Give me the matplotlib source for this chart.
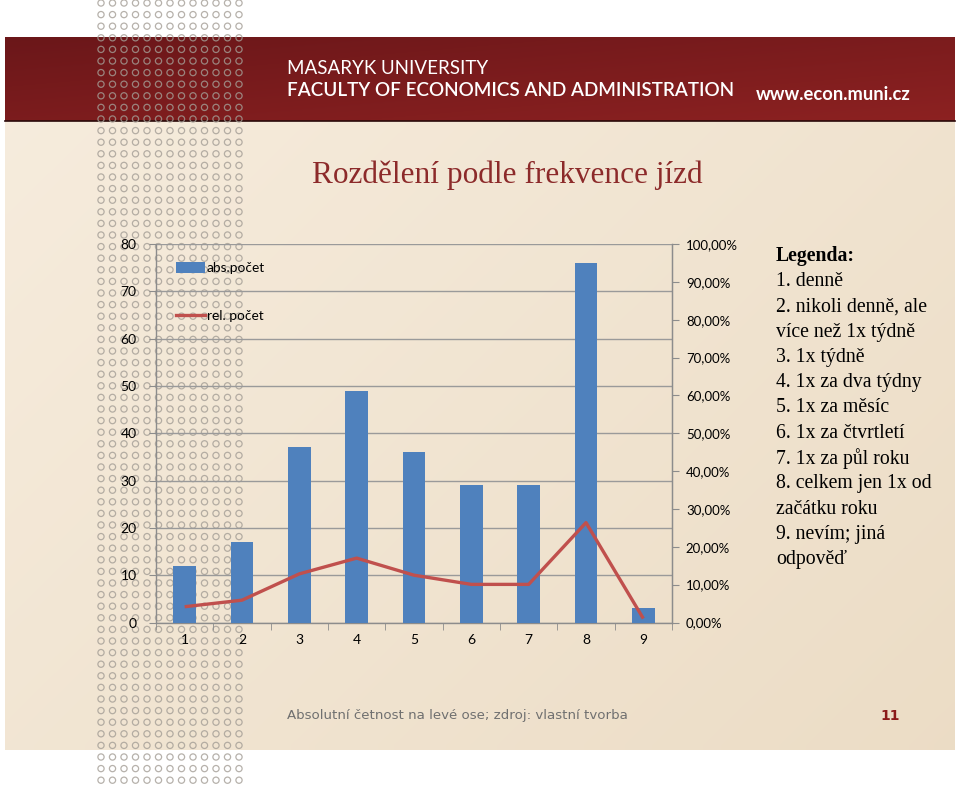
import matplotlib
matplotlib.use("Agg")
import matplotlib.pyplot as plt
import numpy as np
from matplotlib.lines import Line2D
from matplotlib.patches import Patch
from matplotlib.ticker import FuncFormatter, MultipleLocator

# ---------------- data ----------------
categories = ["1", "2", "3", "4", "5", "6", "7", "8", "9"]
abs_counts = [12, 17, 37, 49, 36, 29, 29, 76, 3]
rel_percent = [4.17, 5.90, 12.85, 17.01, 12.50, 10.07, 10.07, 26.39, 1.04]
title = "Rozdělení podle frekvence jízd"
legend_lines = [
    "1. denně",
    "2. nikoli denně, ale",
    "více než 1x týdně",
    "3. 1x týdně",
    "4. 1x za dva týdny",
    "5. 1x za měsíc",
    "6. 1x za čtvrtletí",
    "7. 1x za půl roku",
    "8. celkem jen 1x od",
    "začátku roku",
    "9. nevím; jiná",
    "odpověď",
]
footer = "Absolutní četnost na levé ose; zdroj: vlastní tvorba"
page_no = "11"

W, H = 960, 787
fig = plt.figure(figsize=(W / 100, H / 100), dpi=100)
fig.patch.set_facecolor("white")

# ---------------- background (pixel coordinates) ----------------
bg = fig.add_axes([0, 0, 1, 1], zorder=-10)
bg.set_xlim(0, W)
bg.set_ylim(H, 0)
bg.axis("off")

# beige gradient panel
grad = np.linspace(0, 1, 256)
gx, gy = np.meshgrid(grad, np.linspace(0, 1, 64))
t = 0.6 * gx + 0.4 * gy
c0 = np.array([0.965, 0.925, 0.865])
c1 = np.array([0.925, 0.865, 0.775])
img = c0[None, None, :] * (1 - t[..., None]) + c1[None, None, :] * t[..., None]
bg.imshow(img, extent=[5, 955, 750, 121], aspect="auto", zorder=0, interpolation="bilinear")

# red header gradient
rx, ry = np.meshgrid(np.linspace(0, 1, 256), np.linspace(0, 1, 32))
tr = 0.5 * rx + 0.5 * ry
r0 = np.array([0.42, 0.09, 0.10])
r1 = np.array([0.55, 0.13, 0.13])
rimg = r0[None, None, :] * (1 - tr[..., None]) + r1[None, None, :] * tr[..., None]
bg.imshow(rimg, extent=[5, 955, 121, 37], aspect="auto", zorder=1, interpolation="bilinear")
bg.plot([5, 955], [121, 121], color="#2a0a0a", lw=1.2, zorder=2)

# dotted decoration
xs = 101 + 11.5 * np.arange(13)
ys = 3 + 11.6 * np.arange(68)
DX, DY = np.meshgrid(xs, ys)
bg.scatter(DX.ravel(), DY.ravel(), s=20, facecolors="none",
           edgecolors="#a49e96", linewidths=0.9, alpha=0.8, zorder=3)

bg.set_xlim(0, W)
bg.set_ylim(H, 0)

# header texts
bg.text(287, 68, "MASARYK UNIVERSITY", color="white", fontsize=13.5,
        family="Lato", va="center", ha="left", zorder=5)
bg.text(287, 91, "FACULTY OF ECONOMICS AND ADMINISTRATION", color="white",
        fontsize=13.6, family="Lato", fontweight="semibold", va="center", ha="left", zorder=5)
bg.text(756, 95, "www.econ.muni.cz", color="white", fontsize=13.2,
        family="Lato", fontweight="bold", va="center", ha="left", zorder=5)

# title
bg.text(507, 175, title, color="#8c2a2a", fontsize=22.5, family="Liberation Serif",
        ha="center", va="center", zorder=5)

# right-hand legend text
bg.text(776, 256, "Legenda:", fontsize=14.2, family="Liberation Serif",
        fontweight="bold", va="center", ha="left", color="black", zorder=5)
for i, line in enumerate(legend_lines):
    bg.text(776, 281.5 + 25.3 * i, line, fontsize=14.2, family="Liberation Serif",
            va="center", ha="left", color="black", zorder=5)

# footer
bg.text(287, 716, footer, fontsize=9.6, family="DejaVu Sans", color="#707070",
        va="center", ha="left", zorder=5)
bg.text(890, 716, page_no, fontsize=10, family="DejaVu Sans", fontweight="bold",
        color="#8b1a1a", va="center", ha="center", zorder=5)

# ---------------- chart ----------------
left, right = 156 / W, 672 / W
bottom, top = 1 - 622.5 / H, 1 - 244 / H
ax = fig.add_axes([left, bottom, right - left, top - bottom], zorder=2)
ax.patch.set_alpha(0)

x = np.arange(1, len(categories) + 1)
bar_color = "#4f81bd"
line_color = "#c0504d"
ax.bar(x, abs_counts, width=0.4, color=bar_color, zorder=3)
ax.set_xlim(0.5, len(categories) + 0.5)
ax.set_ylim(0, 80)
ax.yaxis.set_major_locator(MultipleLocator(10))
ax.grid(axis="y", color="#9a9a9a", lw=1.0, zorder=1)
ax.set_axisbelow(True)

grey = "#8c8c8c"
for s in ["left", "bottom", "right"]:
    ax.spines[s].set_color(grey)
    ax.spines[s].set_linewidth(1.0)
ax.spines["top"].set_visible(False)

ax.set_xticks(x)
ax.set_xticklabels(categories)
ax.set_xticks(np.arange(0.5, len(categories) + 1, 1), minor=True)
ax.tick_params(axis="x", which="major", length=0, pad=8, labelsize=10)
ax.tick_params(axis="x", which="minor", length=5, color=grey, direction="out")
ax.tick_params(axis="y", length=5, color=grey, pad=9, labelsize=10)
for lab in ax.get_xticklabels() + ax.get_yticklabels():
    lab.set_family("Lato")

ax2 = ax.twinx()
ax2.patch.set_alpha(0)
ax2.plot(x, [v / 100 for v in rel_percent], color=line_color, lw=2.4, zorder=4,
         solid_capstyle="butt")
ax2.set_ylim(0, 1.0)
ax2.yaxis.set_major_locator(MultipleLocator(0.1))
ax2.yaxis.set_major_formatter(FuncFormatter(lambda v, p: f"{v*100:.2f}%".replace(".", ",")))
for s in ["left", "bottom", "top"]:
    ax2.spines[s].set_visible(False)
ax2.spines["right"].set_color(grey)
ax2.tick_params(axis="y", length=5, color=grey, pad=5, labelsize=9.5)
for lab in ax2.get_yticklabels():
    lab.set_family("Lato")

handles = [Patch(facecolor=bar_color, edgecolor="none"),
           Line2D([0], [0], color=line_color, lw=2.4)]
leg = ax2.legend(handles, ["abs.počet", "rel. počet"], loc="upper left",
                 bbox_to_anchor=(0.015, 0.985), frameon=False,
                 handlelength=2.1, handleheight=0.9, handletextpad=0.15,
                 labelspacing=2.6, prop={"family": "Lato", "size": 9.8})

fig.savefig("out.png", dpi=100)
